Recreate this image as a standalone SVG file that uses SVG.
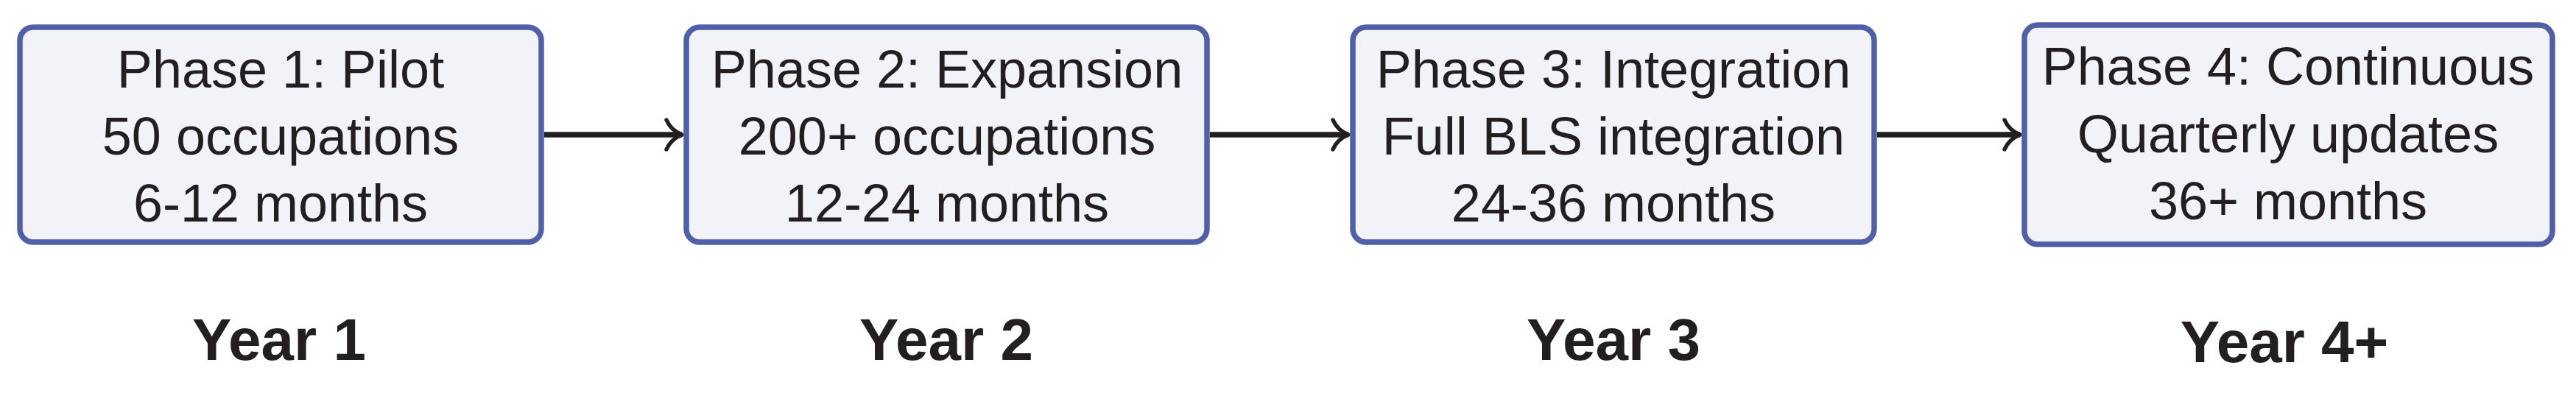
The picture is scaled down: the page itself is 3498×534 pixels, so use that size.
<svg xmlns="http://www.w3.org/2000/svg" width="3498" height="534" viewBox="0 0 3498 534">
<style>
.box{fill:#f2f3f8;stroke:#5060a8;stroke-width:7.5}
.t{font-family:"Liberation Sans",Arial,sans-serif;font-size:72px;fill:#231f20;text-anchor:middle}
.y{font-family:"Liberation Sans",Arial,sans-serif;font-size:80px;font-weight:bold;fill:#231f20;text-anchor:middle}
.c{stroke:#231f20;stroke-width:7.5;fill:none}
</style>
<defs>
<marker id="arr" markerUnits="userSpaceOnUse" markerWidth="34" markerHeight="52" viewBox="-28 -26 34 52" refX="0" refY="0" orient="auto">
<path d="M-21,-20 Q-15,-6 0,0 Q-15,6 -21,20" fill="none" stroke="#231f20" stroke-width="5.5" stroke-linecap="round" stroke-linejoin="round"/>
</marker>
</defs>
<rect width="3498" height="534" fill="#ffffff"/>
<g id="connectors">
<line class="c" x1="739" y1="183" x2="926" y2="183" marker-end="url(#arr)"/>
<line class="c" x1="1643" y1="183" x2="1831" y2="183" marker-end="url(#arr)"/>
<line class="c" x1="2549" y1="183" x2="2743" y2="183" marker-end="url(#arr)"/>
</g>
<g id="phase1">
<rect class="box" x="27" y="37" width="708" height="292" rx="18"/>
<text class="t" x="381" y="119">Phase 1: Pilot</text>
<text class="t" x="381" y="210">50 occupations</text>
<text class="t" x="381" y="301">6-12 months</text>
</g>
<g id="phase2">
<rect class="box" x="932" y="37" width="707" height="292" rx="18"/>
<text class="t" x="1286" y="119">Phase 2: Expansion</text>
<text class="t" x="1286" y="210">200+ occupations</text>
<text class="t" x="1286" y="301">12-24 months</text>
</g>
<g id="phase3">
<rect class="box" x="1837" y="37" width="708" height="292" rx="18"/>
<text class="t" x="2191" y="119">Phase 3: Integration</text>
<text class="t" x="2191" y="210">Full BLS integration</text>
<text class="t" x="2191" y="301">24-36 months</text>
</g>
<g id="phase4">
<rect class="box" x="2749" y="34" width="717" height="298" rx="18"/>
<text class="t" x="3107" y="115">Phase 4: Continuous</text>
<text class="t" x="3107" y="207">Quarterly updates</text>
<text class="t" x="3107" y="298">36+ months</text>
</g>
<g id="year1"><text class="y" x="379" y="489">Year 1</text></g>
<g id="year2"><text class="y" x="1285" y="489">Year 2</text></g>
<g id="year3"><text class="y" x="2191" y="489">Year 3</text></g>
<g id="year4"><text class="y" x="3102" y="492">Year 4+</text></g>
</svg>
